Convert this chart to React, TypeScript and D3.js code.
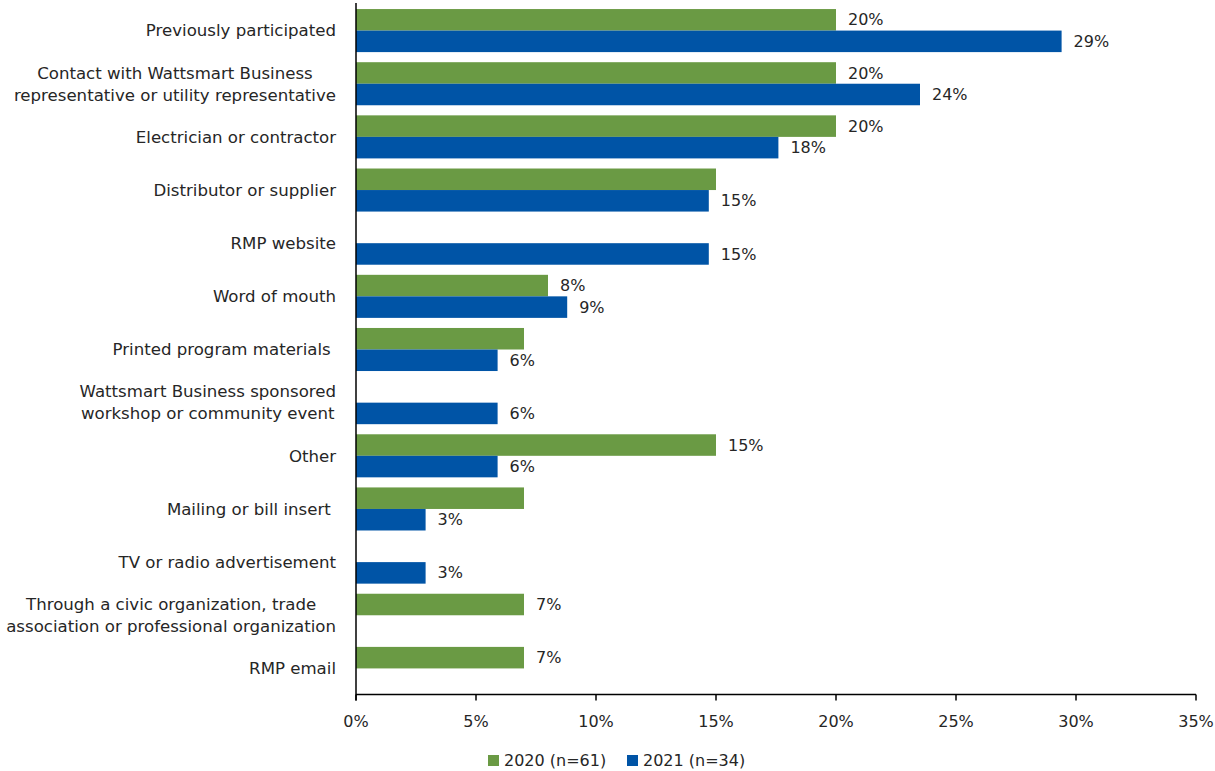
import React from "react";
import * as d3 from "d3";

const categories: string[][] = [
  ["Previously participated"],
  ["Contact with Wattsmart Business", "representative or utility representative"],
  ["Electrician or contractor"],
  ["Distributor or supplier"],
  ["RMP website"],
  ["Word of mouth"],
  ["Printed program materials "],
  ["Wattsmart Business sponsored", "workshop or community event"],
  ["Other"],
  ["Mailing or bill insert "],
  ["TV or radio advertisement"],
  ["Through a civic organization, trade", "association or professional organization"],
  ["RMP email"],
];

const values2020: (number | null)[] = [20, 20, 20, 15, null, 8, 7, null, 15, 7, null, 7, 7];
const values2021: (number | null)[] = [29.4, 23.5, 17.6, 14.7, 14.7, 8.8, 5.9, 5.9, 5.9, 2.9, 2.9, null, null];
const labels2020: (string | null)[] = ["20%", "20%", "20%", null, null, "8%", null, null, "15%", null, null, "7%", "7%"];
const labels2021: (string | null)[] = ["29%", "24%", "18%", "15%", "15%", "9%", "6%", "6%", "6%", "3%", "3%", null, null];

const seriesNames = ["2020 (n=61)", "2021 (n=34)"];
const seriesColors = ["#6A9A44", "#0054A6"];
const xTicks = [0, 5, 10, 15, 20, 25, 30, 35];

const W = 1215;
const H = 771;
const left = 356;
const right = 1196;
const top = 4;
const bottom = 695;
const FONT = "'DejaVu Sans', sans-serif";
const TEXT = "#262626";
const fs = 16.6;
const fsSmall = 16;

let measureCtx: CanvasRenderingContext2D | null = null;
function measure(s: string): number {
  if (!measureCtx) {
    const c = document.createElement("canvas");
    measureCtx = c.getContext("2d");
  }
  if (!measureCtx) return s.length * fs * 0.55;
  measureCtx.font = `${fs}px 'DejaVu Sans'`;
  return measureCtx.measureText(s.replace(/\s+$/, "")).width;
}

export default function App() {
  const x = d3.scaleLinear().domain([0, 35]).range([left, right]);
  const idx = categories.map((_, i) => String(i));
  const y0 = d3.scaleBand<string>().domain(idx).range([top, bottom]).paddingInner(0.19).paddingOuter(0.095);
  const y1 = d3.scaleBand<string>().domain(["0", "1"]).range([0, y0.bandwidth()]);
  const series = [
    { values: values2020, labels: labels2020 },
    { values: values2021, labels: labels2021 },
  ];
  const axisY = 694.5;
  const labelRight = 336;

  return (
    <svg width={W} height={H} style={{ position: "absolute", left: 0, top: 0, background: "#fff" }} fontFamily={FONT}>
      {series.map((s, si) =>
        s.values.map((v, i) => {
          if (v == null) return null;
          const yy = (y0(String(i)) as number) + (y1(String(si)) as number);
          const h = y1.bandwidth();
          return (
            <g key={`b${si}-${i}`}>
              <rect x={x(0)} y={yy} width={x(v) - x(0)} height={h} fill={seriesColors[si]} />
              {s.labels[i] && (
                <text x={x(v) + 12} y={yy + h / 2} dy="0.35em" fontSize={fsSmall} fill={TEXT}>
                  {s.labels[i]}
                </text>
              )}
            </g>
          );
        })
      )}
      {categories.map((lines, i) => {
        const c = (y0(String(i)) as number) + y0.bandwidth() / 2;
        const lh = 22;
        const start = c - ((lines.length - 1) * lh) / 2;
        const maxW = Math.max(...lines.map(measure));
        const cx = labelRight - maxW / 2;
        return (
          <text key={`c${i}`} textAnchor={lines.length > 1 ? "middle" : "end"} fontSize={fs} fill={TEXT} style={{ whiteSpace: "pre" }}>
            {lines.map((l, li) => (
              <tspan key={li} x={lines.length > 1 ? cx : labelRight} y={start + li * lh} dy="0.35em">
                {l}
              </tspan>
            ))}
          </text>
        );
      })}
      <line x1={x(0)} x2={x(0)} y1={3} y2={axisY + 6} stroke="#000" strokeWidth={1.5} />
      <line x1={x(0)} x2={x(35)} y1={axisY} y2={axisY} stroke="#000" strokeWidth={1.5} />
      {xTicks.map((t) => (
        <g key={`t${t}`}>
          <line x1={x(t)} x2={x(t)} y1={axisY} y2={axisY + 6} stroke="#000" strokeWidth={1.5} />
          <text x={x(t)} y={721} dy="0.35em" textAnchor="middle" fontSize={fsSmall} fill={TEXT}>
            {`${t}%`}
          </text>
        </g>
      ))}
      {seriesNames.map((n, i) => {
        const lx = i === 0 ? 488 : 627;
        return (
          <g key={`l${i}`}>
            <rect x={lx} y={755} width={11} height={11} fill={seriesColors[i]} />
            <text x={lx + 16} y={760} dy="0.35em" fontSize={fsSmall} fill={TEXT}>
              {n}
            </text>
          </g>
        );
      })}
    </svg>
  );
}
